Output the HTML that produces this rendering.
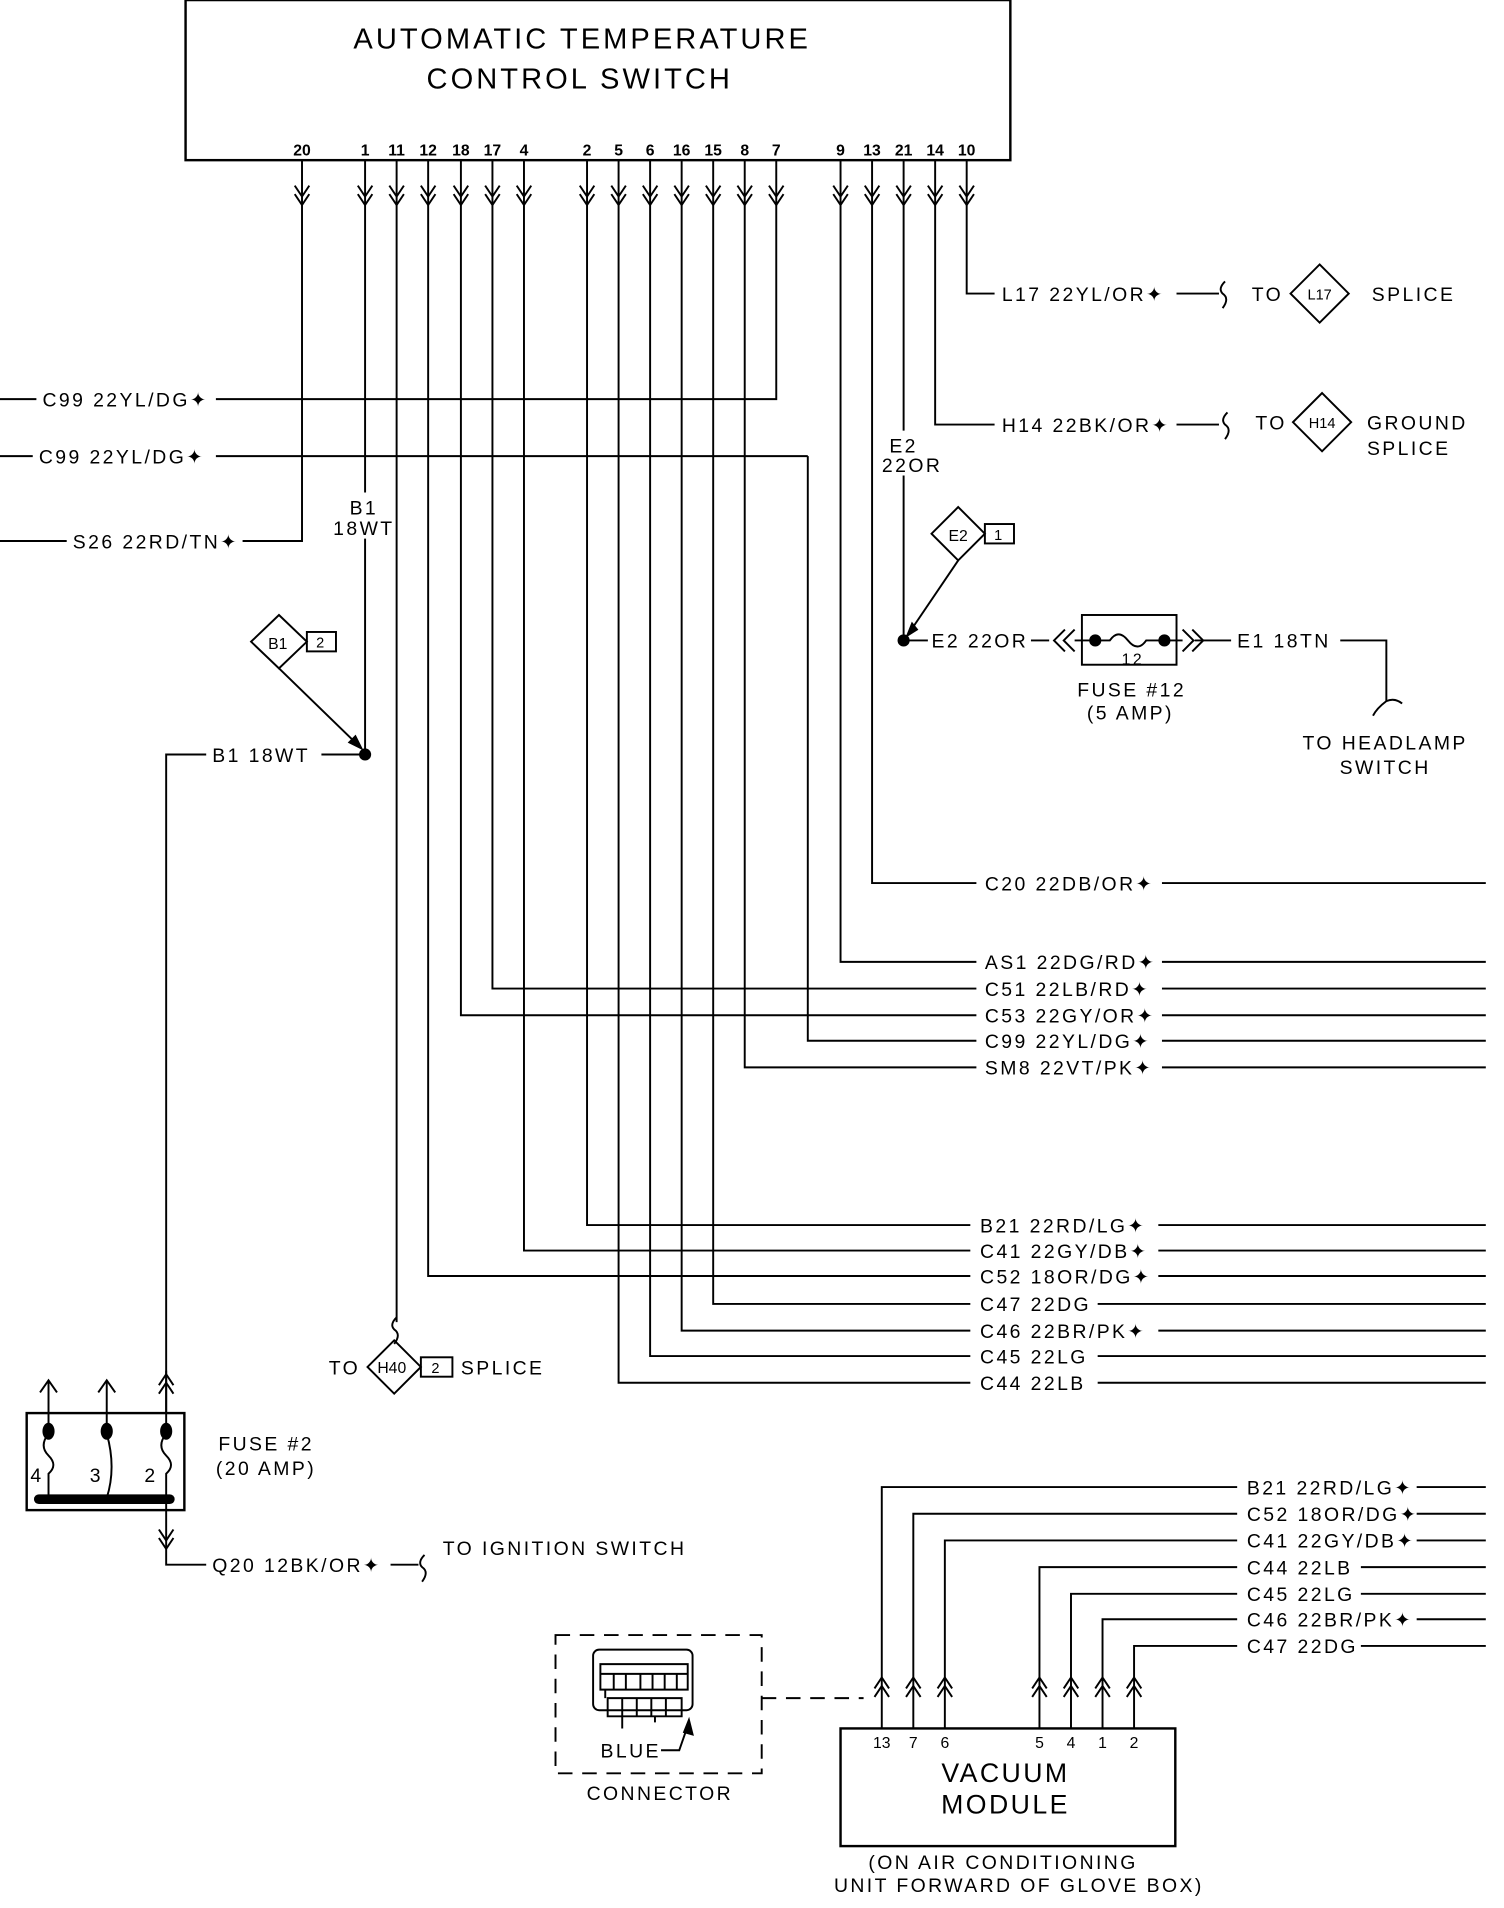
<!DOCTYPE html>
<html><head><meta charset="utf-8"><style>
html,body{margin:0;padding:0;background:#fff}
svg{display:block}
text{font-family:"Liberation Sans",sans-serif;fill:#000}
</style></head><body>
<svg width="1504" height="1908" viewBox="0 0 1240 1573" xmlns="http://www.w3.org/2000/svg">
<defs>
<path id="cd" d="M-6,-9 L0,0 L6,-9 M-6,-2 L0,7 L6,-2" fill="none" stroke="#000" stroke-width="1.6"/>
<path id="cu" d="M-6,9 L0,0 L6,9 M-6,2 L0,-7 L6,2" fill="none" stroke="#000" stroke-width="1.6"/>
<path id="sq" d="M0,-10 Q-6,-4 -2,0 Q4,4 -2,12" fill="none" stroke="#000" stroke-width="1.6"/>
</defs>
<g fill="none" stroke="#000" stroke-width="1.6">
<rect x="153" y="0" width="680" height="132" stroke-width="2"/>
<path d="M249,132 V446 H200 M301,132 V406 M301,444 V622 M327,132 V1090 M353,132 V1052 H800 M380,132 V837 H805 M406,132 V815 H805 M432,132 V1031 H800 M484,132 V1010 H800 M510,132 V1140 H800 M536,132 V1118 H800 M562,132 V1097 H800 M588,132 V1075 H800 M614,132 V880 H805 M640,132 V329 H178 M693,132 V793 H805 M719,132 V728 H805 M745,132 V355 M745,392 V528 M771,132 V350 H820 M797,132 V242 H820"/>
<path d="M666,376 H178 M666,376 V858 H805"/>
<path d="M0,329 H30 M0,376 H27 M0,446 H55"/>
<path d="M958,728 H1225 M958,793 H1225 M958,815 H1225 M958,837 H1225 M958,858 H1225 M958,880 H1225 M955,1010 H1225 M955,1031 H1225 M955,1052 H1225 M905,1075 H1225 M955,1097 H1225 M905,1118 H1225 M905,1140 H1225"/>
<path d="M970,242 H1005 M970,350 H1005"/>
<use href="#sq" x="1010" y="242"/><use href="#sq" x="1012" y="350"/>
<path d="M1088,218 L1112,242 L1088,266 L1064,242 Z M1090,324 L1114,348 L1090,372 L1066,348 Z"/>
<path d="M790,418 L812,440 L790,462 L768,440 Z"/><rect x="812" y="432" width="24" height="16"/>
<path d="M790,462 L748,524"/>
<path d="M748,524 L752,514 L756,519 Z" fill="#000"/>
<path d="M745,528 H765 M850,528 H865 M985,528 H1015 M1105,528 H1143 V578"/>
<path d="M878,519 L869,528 L878,537 M886,519 L877,528 L886,537 M975,519 L984,528 L975,537 M983,519 L992,528 L983,537"/>
<path d="M886,528 H903 M960,528 H975"/>
<rect x="892" y="507" width="78" height="41"/>
<path d="M903,528 H915 Q922,518 930,528 Q938,538 945,528 H960"/>
<path d="M1143,578 Q1135,584 1132,590 M1143,578 Q1150,575 1156,580"/>
<path d="M230,507 L253,529 L230,551 L207,529 Z"/><rect x="253" y="521" width="24" height="16"/>
<path d="M230,551 L298,617"/>
<path d="M298,617 L288,612 L293,607 Z" fill="#000"/>
<path d="M301,622 H265 M170,622 H137 V1165"/>
<use href="#cu" x="137" y="1140"/>
<use href="#sq" x="327" y="1096"/>
<path d="M325,1105 L347,1127 L325,1149 L303,1127 Z"/><rect x="347" y="1119" width="26" height="16"/>
<rect x="22" y="1165" width="130" height="80" stroke-width="2"/>
<path d="M40,1180 V1138 M88,1180 V1138 M137,1180 V1130"/>
<path d="M33,1148 L40,1138 L47,1148 M81,1148 L88,1138 L95,1148"/>
<path d="M40,1182 Q32,1192 40,1200 Q48,1208 40,1215 V1235 M88,1182 Q96,1210 88,1235 M137,1182 Q129,1192 137,1200 Q145,1208 137,1215 V1235"/>
<path d="M32,1236 H140" stroke-width="8" stroke-linecap="round"/>
<path d="M137,1240 V1290 H170"/>
<use href="#cd" x="137" y="1270"/>
<path d="M322,1290 H345"/><use href="#sq" x="350" y="1292"/>
<rect x="693" y="1425" width="276" height="97" stroke-width="2"/>
<path d="M727,1425 V1226 H1020 M753,1425 V1248 H1020 M779,1425 V1270 H1020 M857,1425 V1292 H1020 M883,1425 V1314 H1020 M909,1425 V1335 H1020 M935,1425 V1357 H1020"/>
<path d="M1168,1226 H1225 M1168,1248 H1225 M1168,1270 H1225 M1122,1292 H1225 M1122,1314 H1225 M1168,1335 H1225 M1122,1357 H1225"/>
<path d="M458,1348 H628 V1462 H458 Z M628,1400 H712" stroke-dasharray="12,8"/>
<rect x="489" y="1360" width="82" height="50" rx="5"/>
<path d="M495,1372 H567 V1393 H495 Z M499,1393 V1400 M501,1400 H562 V1415 H501 Z M513,1415 V1425 M540,1415 V1420"/>
<path d="M506,1380 V1393 M516,1380 V1393 M528,1380 V1393 M538,1380 V1393 M548,1380 V1393 M558,1380 V1393 M513,1400 V1415 M525,1400 V1415 M537,1400 V1415 M549,1400 V1415 M495,1380 H567"/>
<path d="M545,1443 H560 L568,1420"/>
<path d="M568,1418 L571,1430 L564,1428 Z" fill="#000"/>
</g>
<g>
<use href="#cd" x="249" y="162"/><use href="#cd" x="301" y="162"/><use href="#cd" x="327" y="162"/><use href="#cd" x="353" y="162"/><use href="#cd" x="380" y="162"/><use href="#cd" x="406" y="162"/><use href="#cd" x="432" y="162"/><use href="#cd" x="484" y="162"/><use href="#cd" x="510" y="162"/><use href="#cd" x="536" y="162"/><use href="#cd" x="562" y="162"/><use href="#cd" x="588" y="162"/><use href="#cd" x="614" y="162"/><use href="#cd" x="640" y="162"/><use href="#cd" x="693" y="162"/><use href="#cd" x="719" y="162"/><use href="#cd" x="745" y="162"/><use href="#cd" x="771" y="162"/><use href="#cd" x="797" y="162"/>
<use href="#cu" x="727" y="1390"/><use href="#cu" x="753" y="1390"/><use href="#cu" x="779" y="1390"/><use href="#cu" x="857" y="1390"/><use href="#cu" x="883" y="1390"/><use href="#cu" x="909" y="1390"/><use href="#cu" x="935" y="1390"/>
</g>
<g fill="#000">
<circle cx="301" cy="622" r="5"/><circle cx="745" cy="528" r="5"/>
<circle cx="903" cy="528" r="5"/><circle cx="960" cy="528" r="5"/>
<ellipse cx="40" cy="1180" rx="5" ry="7"/><ellipse cx="88" cy="1180" rx="5" ry="7"/><ellipse cx="137" cy="1180" rx="5" ry="7"/>
</g>
<text x="480" y="40" font-size="24" letter-spacing="2.5" text-anchor="middle">AUTOMATIC TEMPERATURE</text>
<text x="478" y="73" font-size="24" letter-spacing="2.5" text-anchor="middle">CONTROL SWITCH</text>
<g font-size="13" font-weight="bold" text-anchor="middle">
<text x="249" y="128">20</text><text x="301" y="128">1</text><text x="327" y="128">11</text><text x="353" y="128">12</text><text x="380" y="128">18</text><text x="406" y="128">17</text><text x="432" y="128">4</text><text x="484" y="128">2</text><text x="510" y="128">5</text><text x="536" y="128">6</text><text x="562" y="128">16</text><text x="588" y="128">15</text><text x="614" y="128">8</text><text x="640" y="128">7</text><text x="693" y="128">9</text><text x="719" y="128">13</text><text x="745" y="128">21</text><text x="771" y="128">14</text><text x="797" y="128">10</text>
</g>
<g font-size="16" letter-spacing="2">
<text x="35" y="335">C99 22YL/DG✦</text>
<text x="32" y="382">C99 22YL/DG✦</text>
<text x="60" y="452">S26 22RD/TN✦</text>
<text x="826" y="248">L17 22YL/OR✦</text>
<text x="1032" y="248">TO</text><text x="1088" y="247" font-size="12" letter-spacing="0" text-anchor="middle">L17</text><text x="1131" y="248">SPLICE</text>
<text x="826" y="356">H14 22BK/OR✦</text>
<text x="1035" y="354">TO</text><text x="1090" y="353" font-size="12" letter-spacing="0" text-anchor="middle">H14</text><text x="1127" y="354">GROUND</text><text x="1127" y="375">SPLICE</text>
<text x="745" y="373" text-anchor="middle">E2</text><text x="752" y="389" text-anchor="middle">22OR</text>
<text x="790" y="446" font-size="13" letter-spacing="0" text-anchor="middle">E2</text><text x="824" y="445" font-size="12" text-anchor="middle">1</text>
<text x="768" y="534">E2 22OR</text>
<text x="934" y="548" font-size="13" text-anchor="middle">12</text>
<text x="1020" y="534">E1 18TN</text>
<text x="933" y="574" text-anchor="middle">FUSE #12</text><text x="932" y="593" text-anchor="middle">(5 AMP)</text>
<text x="1142" y="618" text-anchor="middle">TO HEADLAMP</text><text x="1142" y="638" text-anchor="middle">SWITCH</text>
<text x="300" y="424" text-anchor="middle">B1</text><text x="300" y="441" text-anchor="middle">18WT</text>
<text x="229" y="535" font-size="13" letter-spacing="0" text-anchor="middle">B1</text><text x="265" y="534" font-size="12" text-anchor="middle">2</text>
<text x="175" y="628">B1 18WT</text>
<text x="812" y="734">C20 22DB/OR✦</text>
<text x="812" y="799">AS1 22DG/RD✦</text>
<text x="812" y="821">C51 22LB/RD✦</text>
<text x="812" y="843">C53 22GY/OR✦</text>
<text x="812" y="864">C99 22YL/DG✦</text>
<text x="812" y="886">SM8 22VT/PK✦</text>
<text x="808" y="1016">B21 22RD/LG✦</text>
<text x="808" y="1037">C41 22GY/DB✦</text>
<text x="808" y="1058">C52 18OR/DG✦</text>
<text x="808" y="1081">C47 22DG</text>
<text x="808" y="1103">C46 22BR/PK✦</text>
<text x="808" y="1124">C45 22LG</text>
<text x="808" y="1146">C44 22LB</text>
<text x="271" y="1133">TO</text><text x="323" y="1132" font-size="13" letter-spacing="0" text-anchor="middle">H40</text><text x="360" y="1132" font-size="12" text-anchor="middle">2</text><text x="380" y="1133">SPLICE</text>
<text x="180" y="1196">FUSE #2</text><text x="178" y="1216">(20 AMP)</text>
<text x="25" y="1222">4</text><text x="74" y="1222">3</text><text x="119" y="1222">2</text>
<text x="175" y="1296">Q20 12BK/OR✦</text>
<text x="365" y="1282">TO IGNITION SWITCH</text>
<text x="1028" y="1232">B21 22RD/LG✦</text>
<text x="1028" y="1254">C52 18OR/DG✦</text>
<text x="1028" y="1276">C41 22GY/DB✦</text>
<text x="1028" y="1298">C44 22LB</text>
<text x="1028" y="1320">C45 22LG</text>
<text x="1028" y="1341">C46 22BR/PK✦</text>
<text x="1028" y="1363">C47 22DG</text>
<g font-size="13" letter-spacing="0" text-anchor="middle"><text x="727" y="1441">13</text><text x="753" y="1441">7</text><text x="779" y="1441">6</text><text x="857" y="1441">5</text><text x="883" y="1441">4</text><text x="909" y="1441">1</text><text x="935" y="1441">2</text></g>
<text x="829" y="1469" font-size="22" text-anchor="middle">VACUUM</text>
<text x="829" y="1495" font-size="22" text-anchor="middle">MODULE</text>
<text x="520" y="1449" text-anchor="middle">BLUE</text>
<text x="544" y="1484" text-anchor="middle">CONNECTOR</text>
<text x="827" y="1541" text-anchor="middle">(ON AIR CONDITIONING</text>
<text x="840" y="1560" text-anchor="middle">UNIT FORWARD OF GLOVE BOX)</text>
</g>
</svg>
</body></html>
